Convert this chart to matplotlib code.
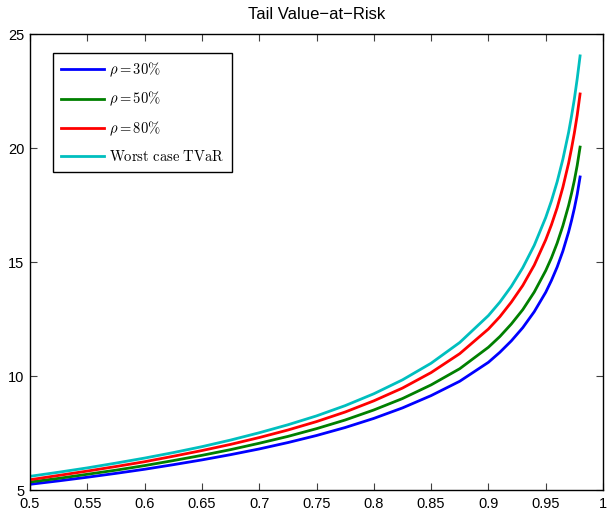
import matplotlib
matplotlib.use("Agg")
import matplotlib.pyplot as plt

x = [0.50, 0.525, 0.55, 0.575, 0.60, 0.625, 0.65, 0.675, 0.70, 0.725,
     0.75, 0.775, 0.80, 0.825, 0.85, 0.875, 0.90, 0.91, 0.92, 0.93,
     0.94, 0.95, 0.955, 0.96, 0.965, 0.97, 0.9725, 0.975, 0.9775, 0.98]
rho30 = [5.25, 5.40, 5.56, 5.73, 5.91, 6.11, 6.32, 6.55, 6.80, 7.08,
         7.39, 7.74, 8.14, 8.60, 9.14, 9.77, 10.60, 11.04, 11.54, 12.12,
         12.82, 13.67, 14.19, 14.78, 15.48, 16.32, 16.81, 17.35, 17.97, 18.73]
rho50 = [5.35, 5.51, 5.69, 5.87, 6.07, 6.29, 6.52, 6.77, 7.05, 7.35,
         7.69, 8.07, 8.51, 9.01, 9.61, 10.32, 11.26, 11.73, 12.28, 12.91,
         13.68, 14.62, 15.18, 15.83, 16.59, 17.48, 18.00, 18.57, 19.24, 20.04]
rho80 = [5.45, 5.64, 5.83, 6.03, 6.24, 6.48, 6.73, 7.00, 7.30, 7.63,
         8.00, 8.42, 8.91, 9.47, 10.15, 10.98, 12.06, 12.60, 13.24, 13.97,
         14.86, 15.97, 16.63, 17.38, 18.28, 19.34, 19.97, 20.66, 21.44, 22.37]
worst = [5.60, 5.78, 5.97, 6.18, 6.40, 6.64, 6.90, 7.19, 7.51, 7.86,
         8.25, 8.70, 9.22, 9.83, 10.56, 11.47, 12.65, 13.24, 13.93, 14.75,
         15.73, 16.95, 17.68, 18.52, 19.51, 20.69, 21.39, 22.15, 23.04, 24.04]
labels = [r'$\rho = 30\%$', r'$\rho = 50\%$', r'$\rho = 80\%$',
          r'$\mathrm{Worst\ case\ TVaR}$']
xticks = [0.5, 0.55, 0.6, 0.65, 0.7, 0.75, 0.8, 0.85, 0.9, 0.95, 1]
xticklabels = ['0.5', '0.55', '0.6', '0.65', '0.7', '0.75', '0.8', '0.85', '0.9', '0.95', '1']
yticks = [5, 10, 15, 20, 25]

plt.rcParams['font.family'] = ['Liberation Sans', 'DejaVu Sans']
plt.rcParams['mathtext.fontset'] = 'cm'

fig = plt.figure(figsize=(6.11, 5.11), dpi=100)
ax = fig.add_axes([30/611, 21/511, 573/611, 456/511])

colors = ['#0000ff', '#008000', '#ff0000', '#00bfbf']
for ys, c, lab in zip([rho30, rho50, rho80, worst], colors, labels):
    ax.plot(x, ys, color=c, lw=2.0, label=lab, solid_joinstyle='round')

ax.set_xlim(0.5, 1)
ax.set_ylim(5, 25)
ax.set_xticks(xticks)
ax.set_xticklabels(xticklabels)
ax.set_yticks(yticks)
ax.tick_params(direction='in', length=5, width=0.8, top=True, right=True,
               labelsize=10.5, color='#404040')
ax.tick_params(axis='x', pad=5)
ax.tick_params(axis='y', pad=4)
for s in ax.spines.values():
    s.set_linewidth(1.0)
ax.set_title('Tail Value\u2212at\u2212Risk', fontsize=12, pad=11)

leg = ax.legend(loc='upper left', bbox_to_anchor=(0.0396, 0.959), fontsize=10.5,
                handlelength=3.0, handletextpad=0.3, labelspacing=0.75,
                borderpad=0.55, borderaxespad=0, fancybox=False, framealpha=1,
                edgecolor='black')
leg.get_frame().set_linewidth(1.0)

fig.savefig('out.png', dpi=100)
